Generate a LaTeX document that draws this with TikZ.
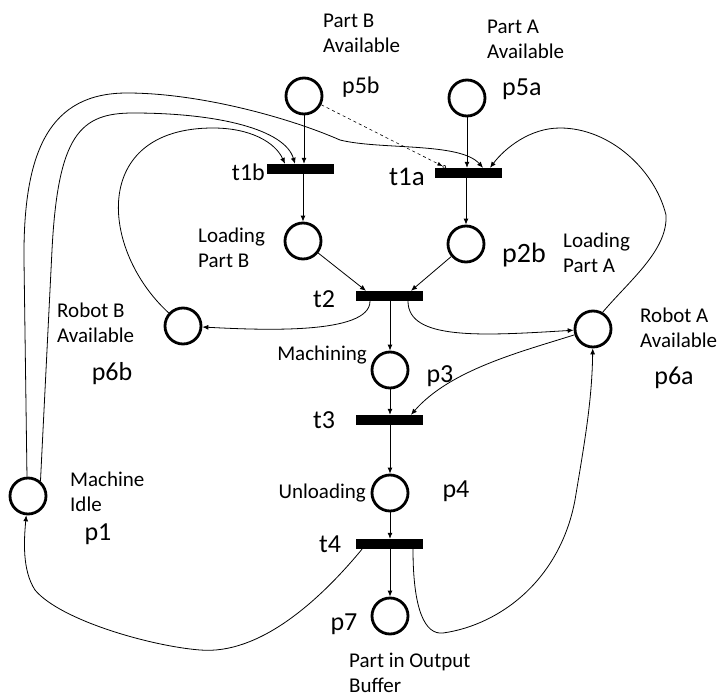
\documentclass[tikz,border=0pt]{standalone}
\usepackage{fontspec}
\setmainfont{Carlito}
\usetikzlibrary{arrows.meta}
\begin{document}
\begin{tikzpicture}[x=1pt,y=-1pt,
  place/.style={circle,draw,line width=2.8pt,minimum size=36pt,inner sep=0pt},
  trans/.style={fill=black,minimum width=67pt,minimum height=10pt,inner sep=0pt},
  lbl/.style={font=\fontsize{21}{25}\selectfont,align=left,inner sep=0pt},
  pl/.style={font=\fontsize{26}{30}\selectfont,inner sep=0pt},
  arc/.style={-{Latex[length=6pt,width=5pt]},line width=0.8pt}]
\useasboundingbox (0,0) rectangle (721,699);
% places
\node[place] (p5b) at (304,96) {};
\node[place] (p5a) at (467,98) {};
\node[place] (p2bl) at (303,241) {};
\node[place] (p2br) at (466,244) {};
\node[place] (p6b) at (183,326) {};
\node[place] (p6a) at (593,329) {};
\node[place] (p3) at (390,370) {};
\node[place] (p4) at (390,493) {};
\node[place] (p7) at (390,616) {};
\node[place] (p1) at (28,496) {};
% transitions
\node[trans] (t1b) at (300,169) {};
\node[trans] (t1a) at (468,173) {};
\node[trans] (t2) at (389,296) {};
\node[trans] (t3) at (389,420) {};
\node[trans] (t4) at (389,544) {};
% labels
\node[lbl,anchor=west] (lp5b) at (323,33) {Part B\\Available};
\node[lbl,anchor=west] (lp5a) at (487,39) {Part A\\Available};
\node[pl,anchor=base west,font=\fontsize{24}{28}\selectfont] (np5b) at (342,93) {p5b};
\node[pl,anchor=base west] (np5a) at (502,95) {p5a};
\node[pl,anchor=base east,font=\fontsize{24}{28}\selectfont] (nt1b) at (265,180) {t1b};
\node[pl,anchor=base west,font=\fontsize{27}{30}\selectfont] (nt1a) at (389,185) {t1a};
\node[lbl,anchor=west] (lp2bl) at (198,248) {Loading\\Part B};
\node[lbl,anchor=west] (lp2br) at (563,253) {Loading\\Part A};
\node[pl,anchor=base west,font=\fontsize{28}{30}\selectfont] (np2b) at (502,262) {p2b};
\node[pl,anchor=base] (nt2) at (324,307) {t2};
\node[lbl,anchor=west] (lp6b) at (57,323) {Robot B\\Available};
\node[pl,anchor=base] (np6b) at (112,380) {p6b};
\node[lbl,anchor=west] (lp6a) at (640,328) {Robot A\\Available};
\node[pl,anchor=base] (np6a) at (674,384) {p6a};
\node[lbl,anchor=base east] (lp3) at (367,360) {Machining};
\node[pl,anchor=base] (np3) at (440,382) {p3};
\node[pl,anchor=base] (nt3) at (324,428) {t3};
\node[lbl,anchor=base east] (lp4) at (366,498) {Unloading};
\node[pl,anchor=base] (np4) at (456,497) {p4};
\node[pl,anchor=base] (nt4) at (330,552) {t4};
\node[pl,anchor=base] (np7) at (344,630) {p7};
\node[lbl,anchor=west] (lp7) at (349,673) {Part in Output\\Buffer};
\node[lbl,anchor=west] (lp1) at (70,492) {Machine\\Idle};
\node[pl,anchor=base] (np1) at (98,540) {p1};
% straight arcs
\draw[arc] (p5b) -- (p5b |- t1b.north);
\draw[arc] (p5a) -- (p5a |- t1a.north);
\draw[arc] (t1b.south -| p2bl) -- (p2bl);
\draw[arc] (t1a.south -| p2br) -- (p2br);
\draw[arc] (p2bl) -- ([xshift=-23pt]t2.north);
\draw[arc] (p2br) -- ([xshift=22pt]t2.north);
\draw[arc] (t2.south -| p3) -- (p3);
\draw[arc] (p3) -- (p3 |- t3.north);
\draw[arc] (t3.south -| p4) -- (p4);
\draw[arc] (p4) -- (p4 |- t4.north);
\draw[arc] (t4.south -| p7) -- (p7);
% dashed arc
\draw[dashed,line width=0.6pt,-{Latex[length=5pt,width=4pt] Circle[open,length=4pt,width=4pt]}] (p5b) -- ([xshift=-22pt]t1a.north);
% curved arcs
\draw[arc] ([xshift=-19pt]t2.south) .. controls (370,335) and (260,330) .. (p6b);
\draw[arc] ([xshift=19pt]t2.south) .. controls (408,340) and (480,336) .. (p6a);
\draw[arc] (p6a) .. controls (520,352) and (450,370) .. ([xshift=22pt]t3.north);
\draw[arc] ([xshift=24pt]t4.south) .. controls (413,610) and (425,635) .. (443,633)
  .. controls (500,625) and (560,580) .. (575,500)
  .. controls (585,440) and (592,400) .. (p6a);
\draw[arc] ([xshift=-27pt]t4.south) .. controls (320,600) and (260,655) .. (200,650)
  .. controls (150,646) and (60,620) .. (35,590)
  .. controls (22,570) and (24,540) .. (p1);
\draw[arc] (p1.93) -- (24,260) .. controls (23,150) and (50,93) .. (127,93)
  .. controls (200,93) and (290,118) .. (340,140)
  .. controls (380,150) and (460,142) .. ([xshift=15pt]t1a.north);
\draw[arc] (p1.50) -- (52,250) .. controls (58,135) and (80,113) .. (133,113)
  .. controls (220,113) and (285,130) .. ([xshift=-5pt]t1b.north);
\draw[arc] (p6b) .. controls (100,250) and (90,128) .. (213,128)
  .. controls (250,128) and (275,142) .. ([xshift=-15pt]t1b.north);
\draw[arc] (p6a.60) .. controls (630,280) and (668,250) .. (666,215)
  .. controls (655,170) and (610,128) .. (560,128)
  .. controls (530,128) and (505,148) .. ([xshift=22pt]t1a.north);
\end{tikzpicture}
\end{document}
